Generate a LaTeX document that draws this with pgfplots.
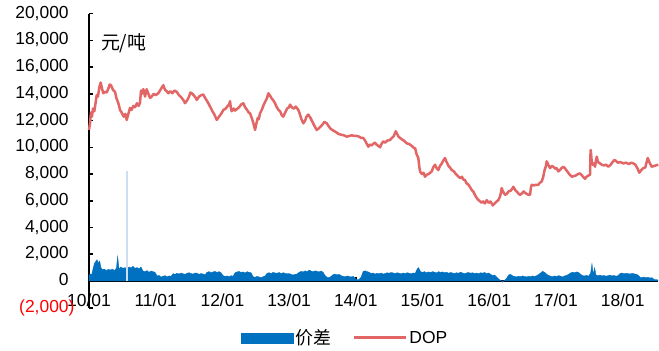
\documentclass[border=0pt]{standalone}
\usepackage{fontspec}
\setmainfont{Liberation Sans}
\newfontfamily\cjk{Noto Sans CJK SC}
\usepackage{pgfplots}
\pgfplotsset{compat=1.18}
\definecolor{barblue}{RGB}{0,112,192}
\definecolor{lineRed}{RGB}{226,102,102}
\definecolor{spikeblue}{RGB}{205,222,240}
\begin{document}
\begin{tikzpicture}
\begin{axis}[
  scale only axis, width=569bp, height=294bp,
  xmin=2010, xmax=2018.53, ymin=-2000, ymax=20000,
  scaled x ticks=false, scaled y ticks=false,
  axis y line*=left, axis x line*=middle,
  hide obscured x ticks=false, hide obscured y ticks=false,
  axis line style={black, line width=1.6bp},
  tick align=inside, major tick length=4bp,
  tick style={black, line width=1.6bp},
  xtick={2010,2011,2012,2013,2014,2015,2016,2017,2018},
  xticklabels={10/01,11/01,12/01,13/01,14/01,15/01,16/01,17/01,18/01},
  ytick={-2000,0,2000,4000,6000,8000,10000,12000,14000,16000,18000,20000},
  yticklabels={{\color{red}(2,000)},{0\phantom{)}},{2,000\phantom{)}},{4,000\phantom{)}},{6,000\phantom{)}},{8,000\phantom{)}},{10,000\phantom{)}},{12,000\phantom{)}},{14,000\phantom{)}},{16,000\phantom{)}},{18,000\phantom{)}},{20,000\phantom{)}}},
  /pgf/number format/assume math mode=true,
  ticklabel style={font=\fontsize{17.5}{19}\selectfont},
  yticklabel style={xshift=-11bp},
  xticklabel style={yshift=-9bp},
  legend style={draw=none, fill=none, at={(0.45,-0.102)}, anchor=center,
    font=\fontsize{17.5}{19}\selectfont,
    /tikz/every even column/.append style={column sep=20bp}},
  legend columns=2,
  clip=false,
]
\addplot[fill=barblue, draw=barblue, line width=0.3bp,
  legend image code/.code={\fill[barblue] (0bp,-5bp) rectangle (52bp,5bp);}]
table {
x y
2010.00 450
2010.02 520
2010.04 480
2010.06 900
2010.08 1300
2010.10 1450
2010.12 1600
2010.14 1350
2010.16 1500
2010.18 1000
2010.20 850
2010.23 900
2010.26 780
2010.29 880
2010.32 820
2010.35 900
2010.38 780
2010.41 950
2010.43 1860
2010.45 900
2010.48 1050
2010.51 950
2010.54 1000
2010.57 900
2010.60 1050
2010.63 980
2010.66 1100
2010.69 950
2010.72 1000
2010.75 920
2010.78 1050
2010.81 750
2010.84 700
2010.87 780
2010.90 650
2010.93 750
2010.96 700
2010.99 650
2011.02 380
2011.05 420
2011.08 300
2011.11 360
2011.14 400
2011.17 320
2011.20 380
2011.23 350
2011.26 550
2011.29 500
2011.32 580
2011.35 520
2011.38 600
2011.41 540
2011.44 500
2011.47 580
2011.50 620
2011.53 560
2011.56 520
2011.59 600
2011.62 580
2011.65 500
2011.68 560
2011.71 520
2011.74 480
2011.77 650
2011.80 700
2011.83 620
2011.86 680
2011.89 720
2011.92 640
2011.95 700
2011.98 620
2012.01 400
2012.04 350
2012.07 380
2012.10 320
2012.13 400
2012.16 360
2012.19 620
2012.22 680
2012.25 720
2012.28 640
2012.31 680
2012.34 600
2012.37 700
2012.40 650
2012.43 620
2012.46 320
2012.49 280
2012.52 350
2012.55 300
2012.58 250
2012.61 320
2012.64 380
2012.67 580
2012.70 620
2012.73 560
2012.76 650
2012.79 600
2012.82 580
2012.85 640
2012.88 560
2012.91 620
2012.94 580
2012.97 540
2013.00 560
2013.03 500
2013.06 450
2013.09 500
2013.12 520
2013.15 650
2013.18 720
2013.21 680
2013.24 760
2013.27 700
2013.30 820
2013.33 740
2013.36 700
2013.39 760
2013.42 720
2013.45 680
2013.48 750
2013.51 650
2013.54 400
2013.57 280
2013.60 260
2013.63 350
2013.66 480
2013.69 520
2013.72 460
2013.75 500
2013.78 400
2013.81 350
2013.84 320
2013.87 380
2013.90 340
2013.93 300
2013.96 360
2013.99 200
2014.02 100
2014.05 120
2014.08 300
2014.11 720
2014.14 760
2014.17 700
2014.20 650
2014.23 560
2014.26 600
2014.29 520
2014.32 580
2014.35 540
2014.38 600
2014.41 520
2014.44 560
2014.47 620
2014.50 580
2014.53 640
2014.56 600
2014.59 560
2014.62 620
2014.65 580
2014.68 540
2014.71 600
2014.74 560
2014.77 620
2014.80 580
2014.83 540
2014.86 600
2014.89 580
2014.92 900
2014.94 1000
2014.97 700
2015.00 650
2015.03 700
2015.06 620
2015.09 680
2015.12 640
2015.15 700
2015.18 660
2015.21 600
2015.24 700
2015.27 640
2015.30 680
2015.33 620
2015.36 660
2015.39 580
2015.42 640
2015.45 600
2015.48 560
2015.51 620
2015.54 580
2015.57 660
2015.60 600
2015.63 540
2015.66 600
2015.69 640
2015.72 580
2015.75 620
2015.78 560
2015.81 600
2015.84 540
2015.87 620
2015.90 580
2015.93 640
2015.96 560
2015.99 600
2016.02 500
2016.05 420
2016.08 450
2016.11 300
2016.14 150
2016.17 50
2016.20 -100
2016.23 50
2016.26 200
2016.29 450
2016.32 500
2016.35 380
2016.38 340
2016.41 300
2016.44 360
2016.47 320
2016.50 380
2016.53 340
2016.56 300
2016.59 360
2016.62 320
2016.65 380
2016.68 340
2016.71 400
2016.74 480
2016.77 600
2016.80 730
2016.83 650
2016.86 500
2016.89 420
2016.92 360
2016.95 320
2016.98 380
2017.01 340
2017.04 400
2017.07 360
2017.10 300
2017.13 380
2017.16 420
2017.19 500
2017.22 600
2017.25 660
2017.28 620
2017.31 680
2017.34 640
2017.37 500
2017.40 400
2017.43 380
2017.46 420
2017.49 360
2017.52 600
2017.54 1310
2017.56 500
2017.58 1000
2017.60 450
2017.63 400
2017.66 440
2017.69 380
2017.72 420
2017.75 360
2017.78 400
2017.81 440
2017.84 380
2017.87 420
2017.90 360
2017.93 400
2017.96 560
2017.99 600
2018.02 540
2018.05 580
2018.08 560
2018.11 520
2018.14 580
2018.17 540
2018.20 500
2018.23 450
2018.26 280
2018.29 260
2018.32 300
2018.35 240
2018.38 280
2018.41 220
2018.44 250
2018.47 120
2018.50 100
2018.53 80
} \closedcycle;
\addlegendentry{\cjk\fontsize{18}{19}\selectfont 价差}
\addplot[spikeblue, line width=1.2bp, forget plot] coordinates {(2010.57,0) (2010.57,8220)};
\addplot[lineRed, line width=2.5bp, line join=round,
  legend image code/.code={\draw[lineRed, line width=2.5bp] (0bp,0bp) -- (52bp,0bp);}]
table {
x y
2010.000 11300
2010.015 11800
2010.030 12600
2010.045 12300
2010.060 12900
2010.080 12700
2010.095 13200
2010.115 13900
2010.135 13800
2010.155 14500
2010.175 14850
2010.195 14400
2010.214 14050
2010.240 14150
2010.265 14100
2010.290 14400
2010.310 14700
2010.330 14650
2010.360 14300
2010.390 14150
2010.410 13700
2010.440 13300
2010.465 12800
2010.490 12600
2010.520 12300
2010.545 12500
2010.565 12050
2010.590 12500
2010.615 12950
2010.640 12800
2010.665 13100
2010.690 13000
2010.720 13300
2010.745 13100
2010.765 13350
2010.780 14250
2010.790 14000
2010.815 14350
2010.840 13800
2010.865 14350
2010.890 14000
2010.915 13700
2010.940 13800
2010.970 14000
2011.000 13900
2011.039 14050
2011.070 14300
2011.095 14500
2011.114 14650
2011.140 14300
2011.165 14200
2011.189 14050
2011.220 14200
2011.250 14050
2011.280 14250
2011.315 14150
2011.350 13900
2011.390 13700
2011.420 13500
2011.439 13300
2011.470 13500
2011.500 13800
2011.520 14100
2011.540 14050
2011.570 13900
2011.600 13700
2011.615 13550
2011.650 13800
2011.680 13900
2011.714 13950
2011.740 13700
2011.765 13500
2011.789 13300
2011.820 13000
2011.850 12700
2011.880 12450
2011.915 12050
2011.950 12300
2011.980 12500
2012.015 12800
2012.050 12900
2012.080 13100
2012.100 13200
2012.114 13450
2012.125 13000
2012.139 12700
2012.170 12900
2012.190 12750
2012.214 12850
2012.250 13000
2012.280 13200
2012.313 13300
2012.340 13000
2012.370 12800
2012.395 12600
2012.414 12550
2012.440 12200
2012.465 11800
2012.489 11300
2012.510 11800
2012.530 12200
2012.545 12100
2012.564 12550
2012.590 12800
2012.620 13200
2012.650 13500
2012.670 13700
2012.688 14050
2012.710 13900
2012.740 13650
2012.765 13500
2012.789 13300
2012.810 13050
2012.840 12800
2012.870 12650
2012.890 12400
2012.913 12300
2012.940 12600
2012.970 12900
2013.000 13000
2013.013 13200
2013.040 13000
2013.070 12900
2013.100 13050
2013.138 12800
2013.160 12500
2013.185 12100
2013.213 11800
2013.240 12000
2013.260 12300
2013.288 12450
2013.320 12200
2013.350 11900
2013.380 11600
2013.414 11300
2013.440 11400
2013.470 11550
2013.500 11700
2013.530 11900
2013.564 11800
2013.590 11600
2013.620 11400
2013.663 11250
2013.700 11150
2013.740 11000
2013.780 10950
2013.820 10900
2013.864 10800
2013.900 10850
2013.940 10900
2013.980 10850
2014.013 10850
2014.050 10800
2014.080 10700
2014.112 10700
2014.140 10500
2014.160 10300
2014.187 10050
2014.210 10200
2014.240 10150
2014.270 10300
2014.288 10350
2014.310 10200
2014.340 10100
2014.363 10000
2014.390 10300
2014.412 10450
2014.440 10350
2014.470 10500
2014.513 10550
2014.540 10700
2014.570 10850
2014.598 11200
2014.620 11000
2014.640 10800
2014.663 10700
2014.690 10600
2014.720 10500
2014.763 10300
2014.800 10250
2014.840 10100
2014.870 9950
2014.888 9950
2014.910 9500
2014.937 9200
2014.950 8600
2014.963 8200
2014.990 8000
2015.015 8100
2015.037 7800
2015.060 7950
2015.090 8000
2015.115 8100
2015.138 8200
2015.160 8500
2015.187 8700
2015.210 8450
2015.237 8300
2015.260 8600
2015.290 8800
2015.310 9000
2015.337 9200
2015.360 8900
2015.390 8600
2015.410 8500
2015.438 8300
2015.470 8200
2015.500 8000
2015.530 7850
2015.562 7700
2015.590 7800
2015.610 7600
2015.637 7550
2015.660 7300
2015.690 7200
2015.715 7000
2015.738 6800
2015.760 6700
2015.790 6400
2015.813 6200
2015.840 6050
2015.865 5950
2015.888 5850
2015.910 5950
2015.935 5800
2015.963 6050
2015.990 5850
2016.020 5950
2016.053 5650
2016.080 5800
2016.110 5950
2016.136 6050
2016.160 6300
2016.175 6600
2016.187 6950
2016.205 6700
2016.237 6450
2016.260 6500
2016.290 6700
2016.320 6750
2016.345 6900
2016.361 7050
2016.390 6800
2016.420 6650
2016.445 6500
2016.462 6450
2016.490 6550
2016.515 6700
2016.537 6600
2016.565 6500
2016.590 6450
2016.612 6450
2016.625 7000
2016.637 7200
2016.670 7150
2016.700 7200
2016.736 7200
2016.760 7350
2016.787 7450
2016.810 7800
2016.830 8300
2016.850 8600
2016.862 8950
2016.885 8700
2016.912 8450
2016.940 8600
2016.961 8550
2016.990 8400
2017.010 8450
2017.036 8200
2017.060 8300
2017.085 8450
2017.111 8550
2017.140 8400
2017.170 8200
2017.200 8000
2017.237 7800
2017.270 7850
2017.300 7900
2017.330 8000
2017.361 8050
2017.390 7900
2017.415 7750
2017.436 7650
2017.460 7800
2017.490 7900
2017.511 7950
2017.518 9500
2017.522 9800
2017.535 9000
2017.550 8700
2017.570 8800
2017.586 8550
2017.600 9000
2017.612 9300
2017.630 8900
2017.660 8800
2017.687 8700
2017.720 8650
2017.750 8700
2017.786 8550
2017.820 8700
2017.850 8900
2017.875 9050
2017.897 9000
2017.930 8850
2017.960 8900
2018.010 8800
2018.050 8850
2018.090 8750
2018.130 8850
2018.160 8800
2018.190 8700
2018.220 8450
2018.250 8100
2018.280 8300
2018.310 8450
2018.340 8500
2018.360 8900
2018.376 9200
2018.400 8900
2018.436 8550
2018.470 8600
2018.500 8650
2018.535 8700
};
\addlegendentry{DOP}
\node[anchor=west, font=\cjk\fontsize{19}{21}\selectfont] at (rel axis cs:0.015,0.90) {元/吨};
\end{axis}
\pgfresetboundingbox
\path[use as bounding box] (-89bp,-43.3bp) rectangle (570bp,307.7bp);
\end{tikzpicture}
\end{document}
